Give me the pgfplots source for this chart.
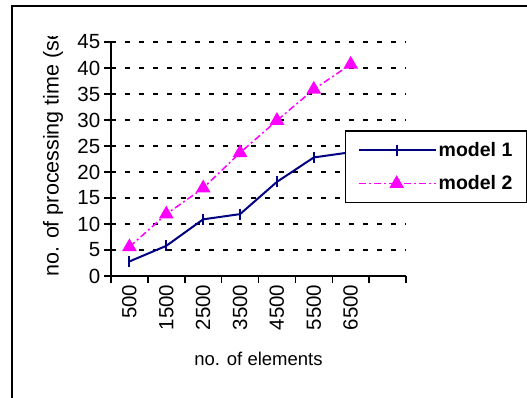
\documentclass[border=0pt]{standalone}
\usepackage{pgfplots}
\pgfplotsset{compat=1.18}
\usepackage{fontspec}
\setmainfont{Liberation Sans}
\definecolor{mnavy}{RGB}{0,0,128}
\definecolor{mmag}{RGB}{255,0,255}
\begin{document}
\begin{tikzpicture}[x=1pt,y=1pt]
\useasboundingbox (0,0) rectangle (527,398);
\draw[line width=1.6pt] (12,-20) -- (12,392) -- (560,392);
\begin{axis}[
  at={(111pt,122pt)}, anchor=south west,
  scale only axis, width=295pt, height=234pt,
  xmin=-0.5, xmax=7.5, ymin=0, ymax=45,
  axis x line*=bottom, axis y line*=left,
  axis line style={line width=1.5pt,-},
  xtick={-0.5,0.5,...,7.5},
  x tick label as interval,
  xticklabels={500,1500,2500,3500,4500,5500,6500,{}},
  ytick={0,5,...,40},
  extra y ticks={45}, extra y tick labels={45},
  extra y tick style={grid style={line width=3pt, dash pattern=on 4.5pt off 9.5pt, black}},
  tick align=outside, major tick length=7pt,
  tick style={line width=1.5pt, black},
  ymajorgrids,
  y grid style={line width=1.5pt, dash pattern=on 5pt off 9pt, black},
  /pgf/number format/assume math mode=true,
  xticklabel style={rotate=90, anchor=east, inner sep=1.5pt, font=\fontsize{20.5}{20}\selectfont},
  yticklabel style={inner sep=3.5pt, font=\fontsize{20.5}{20}\selectfont},
  xlabel={no. of elements},
  xlabel style={at={(axis description cs:0.5,-0.355)}, anchor=center, font=\fontsize{18.5}{20}\selectfont},
  legend cell align=left,
  legend image code/.code={\draw[mark repeat=2,mark phase=2,#1] plot coordinates {(0pt,0pt) (38pt,0pt) (77pt,0pt)};},
  legend style={at={(axis description cs:0.793,0.622)}, anchor=north west,
    draw=black, line width=1.5pt, fill=white, inner xsep=12pt, inner ysep=9pt,
    row sep=14pt, font=\bfseries\fontsize{19.5}{20}\selectfont, nodes={inner sep=2pt}},
]
\addplot[mnavy, line width=2pt, mark=|, mark size=5.5pt, mark options={solid, line width=2pt}]
  coordinates {(0,2.8)(1,5.8)(2,10.9)(3,11.9)(4,18.1)(5,22.8)(6,23.8)};
\addlegendentry{model 1\hspace{30pt}}
\addplot[mmag, line width=1.5pt, dash pattern=on 7pt off 3pt on 2pt off 3pt, mark=triangle*, mark size=7pt, mark options={solid}]
  coordinates {(0,5.6)(1,11.9)(2,16.9)(3,23.7)(4,29.9)(5,35.9)(6,40.7)};
\addlegendentry{model 2\hspace{30pt}}
\end{axis}
\begin{scope}
\clip (0,0) rectangle (527,361);
\node[rotate=90, anchor=west, inner sep=0pt, font=\fontsize{21.5}{20}\selectfont] at (53,121) {no. of processing time (sec)};
\end{scope}
\end{tikzpicture}
\end{document}
